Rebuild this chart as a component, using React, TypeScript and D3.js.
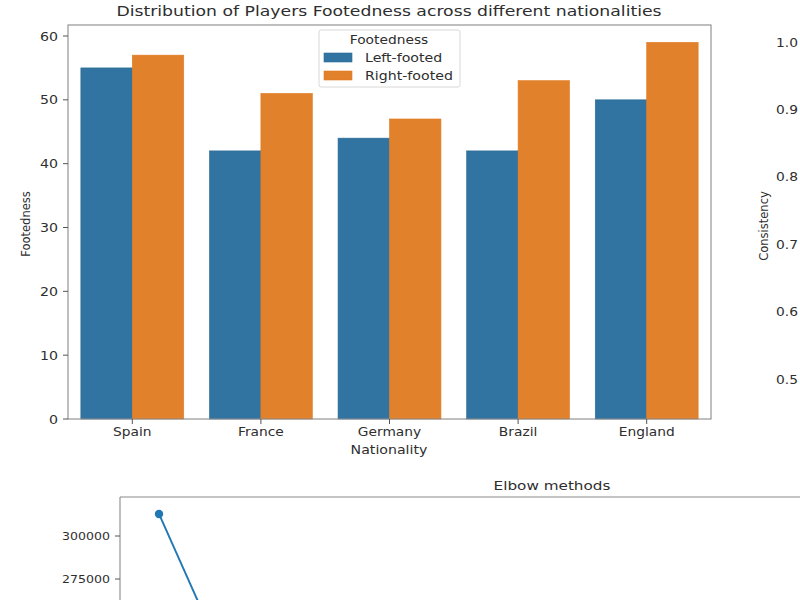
import React from "react";
import * as d3 from "d3";

const nationalities = ["Spain", "France", "Germany", "Brazil", "England"];
const footTypes = ["Left-footed", "Right-footed"];
const leftFooted = [55, 42, 44, 42, 50];
const rightFooted = [57, 51, 47, 53, 59];
const footColors = ["#3274a1", "#e1812c"];
const footEdges = ["#2b6a96", "#e07b20"];
const footTicks = [0, 10, 20, 30, 40, 50, 60];

const consistencyTicks = [1.0, 0.9, 0.8, 0.7, 0.6, 0.5];

const elbowK = [1, 2];
const elbowInertia = [312800, 262000];
const elbowTicks = [300000, 275000];

const font = "'DejaVu Sans', sans-serif";
const textColor = "#2e2e2e";
const spineColor = "#8a8a8a";

// the reference is a squashed screenshot, so its text is wider than it is tall
function Label({
  x,
  y,
  sx = 1.18,
  size = 12,
  anchor = "middle",
  rotate = 0,
  children,
}: {
  x: number;
  y: number;
  sx?: number;
  size?: number;
  anchor?: string;
  rotate?: number;
  children: React.ReactNode;
}) {
  return (
    <text
      transform={`translate(${x},${y}) rotate(${rotate}) scale(${sx},1)`}
      textAnchor={anchor}
      fontSize={size}
    >
      {children}
    </text>
  );
}

export default function App() {
  const x = d3.scaleBand<string>().domain(nationalities).range([68, 711]).paddingInner(0.2).paddingOuter(0.1);
  const hue = d3.scaleBand<string>().domain(footTypes).range([0, x.bandwidth()]);
  const y = d3.scaleLinear().domain([0, 60]).range([419, 36]);

  const consY = d3.scaleLinear().domain([0.5, 1.0]).range([379, 42]);

  const elbowX = d3.scaleLinear().domain([1, 2]).range([159, 198]);
  const elbowY = d3.scaleLinear().domain([275000, 300000]).range([579, 536]);
  const elbowLine = d3
    .line<number>()
    .x((d) => elbowX(d))
    .y((_, i) => elbowY(elbowInertia[i]));

  const series = [leftFooted, rightFooted];

  return (
    <svg
      width={800}
      height={600}
      viewBox="0 0 800 600"
      style={{ position: "fixed", left: 0, top: 0, background: "#fff" }}
      fontFamily={font}
      fill={textColor}
    >
      <Label x={389} y={16} size={14.5} sx={1.19}>
        Distribution of Players Footedness across different nationalities
      </Label>

      {series.map((values, s) =>
        values.map((v, i) => (
          <rect
            key={`${s}-${i}`}
            x={x(nationalities[i])! + hue(footTypes[s])!}
            y={y(v)}
            width={hue.bandwidth()}
            height={y(0) - y(v)}
            fill={footColors[s]}
            stroke={footEdges[s]}
            strokeWidth={0.6}
          />
        )),
      )}

      <rect x={68} y={25} width={643} height={394} fill="none" stroke={spineColor} strokeWidth={1.1} />

      {footTicks.map((t) => (
        <g key={t}>
          <line x1={63} x2={68} y1={y(t)} y2={y(t)} stroke="#555" />
          <Label x={58} y={y(t) + 4.5} anchor="end">
            {t}
          </Label>
        </g>
      ))}
      {nationalities.map((n) => (
        <g key={n}>
          <line x1={x(n)! + x.bandwidth() / 2} x2={x(n)! + x.bandwidth() / 2} y1={419} y2={424} stroke="#555" />
          <Label x={x(n)! + x.bandwidth() / 2} y={436} sx={1.15}>
            {n}
          </Label>
        </g>
      ))}
      <Label x={389} y={454}>
        Nationality
      </Label>
      <Label x={30} y={224} rotate={-90} sx={0.96}>
        Footedness
      </Label>

      <rect x={319} y={30} width={141} height={57} rx={2} fill="#fff" fillOpacity={0.8} stroke="#d8d8d8" />
      <Label x={389} y={44} size={11.5} sx={1.2}>
        Footedness
      </Label>
      {footTypes.map((name, i) => (
        <g key={name}>
          <rect x={324} y={53 + i * 18} width={28} height={9} fill={footColors[i]} stroke={footEdges[i]} strokeWidth={0.6} />
          <Label x={365} y={62 + i * 18} anchor="start">
            {name}
          </Label>
        </g>
      ))}

      {consistencyTicks.map((t) => (
        <Label key={t} x={798} y={consY(t) + 4.5} anchor="end" sx={1.15}>
          {t.toFixed(1)}
        </Label>
      ))}
      <Label x={768} y={226} rotate={-90} sx={0.96}>
        Consistency
      </Label>

      <Label x={552} y={489.5} sx={1.27}>
        Elbow methods
      </Label>
      <line x1={120} x2={800} y1={497} y2={497} stroke={spineColor} strokeWidth={1.1} />
      <line x1={120} x2={120} y1={497} y2={600} stroke={spineColor} strokeWidth={1.1} />
      {elbowTicks.map((t) => (
        <g key={t}>
          <line x1={115} x2={120} y1={elbowY(t)} y2={elbowY(t)} stroke="#555" />
          <Label x={110} y={elbowY(t) + 4} size={10.5} anchor="end" sx={1.2}>
            {t}
          </Label>
        </g>
      ))}
      <path d={elbowLine(elbowK) ?? ""} fill="none" stroke="#1f77b4" strokeWidth={1.9} />
      <circle cx={elbowX(elbowK[0])} cy={elbowY(elbowInertia[0])} r={4.2} fill="#1f77b4" />
    </svg>
  );
}
